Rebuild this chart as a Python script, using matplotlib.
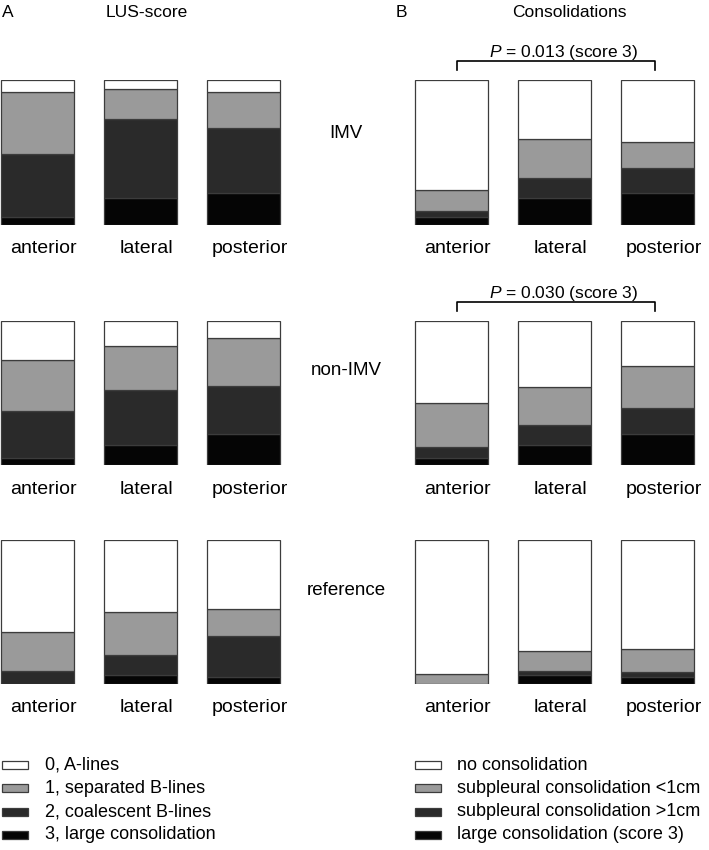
import matplotlib
matplotlib.use("Agg")
import matplotlib.pyplot as plt
from matplotlib.patches import Rectangle
from matplotlib.transforms import ScaledTranslation

plt.rcParams['font.family'] = ['Liberation Sans', 'DejaVu Sans']
plt.rcParams['mathtext.fontset'] = 'custom'
plt.rcParams['mathtext.rm'] = 'Liberation Sans'
plt.rcParams['mathtext.it'] = 'Liberation Sans:italic'

# données (en %), lignes = catégorie (0 -> 3), colonnes = anterior / lateral / posterior
sites = ['anterior', 'lateral', 'posterior']
groups = ['IMV', 'non-IMV', 'reference']

lus_labels = ['0, A-lines', '1, separated B-lines', '2, coalescent B-lines', '3, large consolidation']
cons_labels = ['no consolidation', 'subpleural consolidation <1cm',
               'subpleural consolidation >1cm', 'large consolidation (score 3)']

lus_imv = [[8, 6, 8], [43, 21, 25], [44, 55, 45], [5, 18, 22]]
lus_nonimv = [[27, 17, 12], [35, 31, 33], [33, 38, 33], [5, 14, 22]]
lus_ref = [[64, 50, 48], [27, 30, 19], [9, 14, 28], [0, 6, 5]]

cons_imv = [[76, 41, 43], [15, 27, 18], [4, 14, 17], [5, 18, 22]]
cons_nonimv = [[57, 46, 31], [30, 26, 29], [8, 14, 18], [5, 14, 22]]
cons_ref = [[93, 77, 76], [7, 14, 16], [0, 3, 3], [0, 6, 5]]

p_texts = ['0.013', '0.030', None]

colors = ['white', '#9a9a9a', '#2a2a2a', '#050505']
edge = '#3c3c3c'

W, H = 709, 850
fig = plt.figure(figsize=(7.09, 8.5), dpi=100)


def px_axes(x0, x1, ytop, ybot):
    return fig.add_axes([x0 / W, 1 - ybot / H, (x1 - x0) / W, (ybot - ytop) / H])


def draw_bars(ax, data):
    bottom = [0, 0, 0]
    # on empile du score 3 (en bas) au score 0 (en haut)
    for k in [3, 2, 1, 0]:
        ax.bar(range(3), data[k], 0.7, bottom=bottom, color=colors[k],
               edgecolor=edge, linewidth=0.9)
        bottom = [b + v for b, v in zip(bottom, data[k])]
    ax.set_xlim(-0.36, 2.4)
    ax.set_ylim(0, 100)
    ax.axis('off')
    trans = ax.get_xaxis_transform() + ScaledTranslation(6 / 100, -28.5 / 100, fig.dpi_scale_trans)
    for i, s in enumerate(sites):
        ax.text(i, 0, s, transform=trans, ha='center', va='baseline', fontsize=14)


rows = [(80, 224.5), (321, 465.5), (540, 684)]
lus_all = [lus_imv, lus_nonimv, lus_ref]
cons_all = [cons_imv, cons_nonimv, cons_ref]
label_base = [138, 375, 595]

for r, (top, bot) in enumerate(rows):
    axA = px_axes(0.4, 284.7, top, bot)
    draw_bars(axA, lus_all[r])
    axB = px_axes(414.4, 698.7, top, bot)
    draw_bars(axB, cons_all[r])
    fig.text(346 / W, 1 - label_base[r] / H, groups[r], ha='center', va='baseline', fontsize=13.5)
    if p_texts[r]:
        axB.plot([0.05, 0.05, 1.98, 1.98], [106.7, 113, 113, 106.7], color='black',
                 linewidth=1.2, clip_on=False)
        axB.text(1.087, 115.9, r'$\it{P}$ = ' + p_texts[r] + ' (score 3)', ha='center',
                 va='baseline', fontsize=12.5)

# titres
fig.text(2 / W, 1 - 16.7 / H, 'A', ha='left', va='baseline', fontsize=12.5)
fig.text(147 / W, 1 - 16.7 / H, 'LUS-score', ha='center', va='baseline', fontsize=12.5)
fig.text(396 / W, 1 - 16.7 / H, 'B', ha='left', va='baseline', fontsize=12.5)
fig.text(569 / W, 1 - 16.7 / H, 'Consolidations', ha='center', va='baseline', fontsize=12.5)

# légendes
for k in range(4):
    yc = 765 + k * 23.3
    for (px0, tx, labels) in [(2, 45, lus_labels), (415, 457, cons_labels)]:
        fig.add_artist(Rectangle((px0 / W, 1 - (yc + 4) / H), 26 / W, 8 / H,
                                 transform=fig.transFigure, facecolor=colors[k],
                                 edgecolor=edge, linewidth=0.9))
        fig.text(tx / W, 1 - yc / H, labels[k], ha='left', va='center', fontsize=13)

fig.savefig('out.png', dpi=100)
